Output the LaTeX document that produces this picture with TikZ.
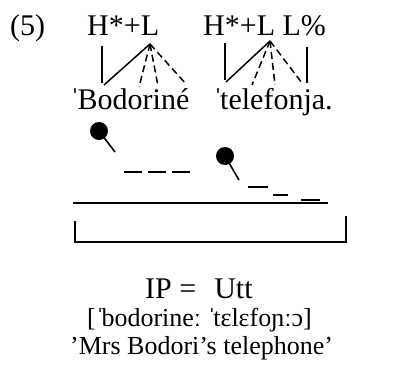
\documentclass[tikz,border=0pt]{standalone}
\usepackage{fontspec}
\setmainfont{Liberation Serif}
\begin{document}
\begin{tikzpicture}[x=1pt,y=-1pt,
  big/.style={inner sep=0pt,anchor=base west,font=\fontsize{30}{36}\selectfont},
  small/.style={inner sep=0pt,anchor=base west,font=\fontsize{26}{30}\selectfont},
  assoc/.style={line width=1.5pt},
  assocd/.style={line width=1.5pt,dash pattern=on 7pt off 4pt},
  level/.style={line width=1.6pt},
  peak/.style={circle,fill=black,inner sep=0pt,minimum size=18pt},
  stem/.style={line width=1.6pt},
  rule/.style={line width=1.6pt}]
\useasboundingbox (0,0) rectangle (396,383);
% example number and tones
\node[big] (ex) at (10,35) {(5)};
\node[big] (t1) at (87,35) {H*+L};
\node[big] (t2) at (203,35) {H*+L L\%};
% words
\node[big] (w1) at (70,109) {ˈ\kern-2.5ptBodoriné};
\node[big] (w2) at (213,109) {ˈ\kern-3pttelefonja.};
% association points
\coordinate (a1) at (150,44);
\coordinate (h1t) at (102,46);
\coordinate (h1b) at (102,83);
\coordinate (s1) at (104,85);
\coordinate (d11) at (139,87);
\coordinate (d12) at (158,86);
\coordinate (d13) at (186,84);
\coordinate (a2) at (270,41);
\coordinate (h2t) at (225,43);
\coordinate (h2b) at (225,80);
\coordinate (s2) at (226,82);
\coordinate (d21) at (252,85);
\coordinate (d22) at (275,85);
\coordinate (d23) at (302,83);
\coordinate (lpt) at (307,47);
\coordinate (lpb) at (307,83);
\draw[assoc] (h1t) -- (h1b);
\draw[assoc] (s1) -- (a1);
\draw[assocd] (a1) -- (d11);
\draw[assocd] (a1) -- (d12);
\draw[assocd] (a1) -- (d13);
\draw[assoc] (h2t) -- (h2b);
\draw[assoc] (s2) -- (a2);
\draw[assocd] (a2) -- (d21);
\draw[assocd] (a2) -- (d22);
\draw[assocd] (a2) -- (d23);
\draw[assoc] (lpt) -- (lpb);
% pitch contour
\node[peak] (p1) at (99,131) {};
\coordinate (p1e) at (115,152);
\draw[stem] (p1.center) -- (p1e);
\coordinate (l1a) at (124,172);
\coordinate (l1b) at (192,172);
\draw[level,dash pattern=on 18pt off 6pt] (l1a) -- (l1b);
\node[peak] (p2) at (225,156) {};
\coordinate (p2e) at (239,180);
\draw[stem] (p2.center) -- (p2e);
\coordinate (m1a) at (248,187);
\coordinate (m1b) at (268,187);
\coordinate (m2a) at (273,195);
\coordinate (m2b) at (288,195);
\coordinate (m3a) at (301,200);
\coordinate (m3b) at (320,200);
\draw[level] (m1a) -- (m1b);
\draw[level] (m2a) -- (m2b);
\draw[level] (m3a) -- (m3b);
% baseline and bracket
\coordinate (bl) at (73,203);
\coordinate (br) at (328,203);
\draw[rule] (bl) -- (br);
\coordinate (k1) at (75,221);
\coordinate (k2) at (75,242);
\coordinate (k3) at (346,242);
\coordinate (k4) at (346,216);
\draw[rule] (k1) -- (k2) -- (k3) -- (k4);
% lower text
\node[big] (ip) at (145,298) {IP =\hspace{18pt}Utt};
\node[small] (ipa) at (87,326) {[ˈ\kern-3ptbodorineː ˈ\kern-3pttɛlɛfoɲːɔ]};
\node[small] (gl) at (70,354) {’Mrs Bodori’s telephone’};
\end{tikzpicture}
\end{document}
